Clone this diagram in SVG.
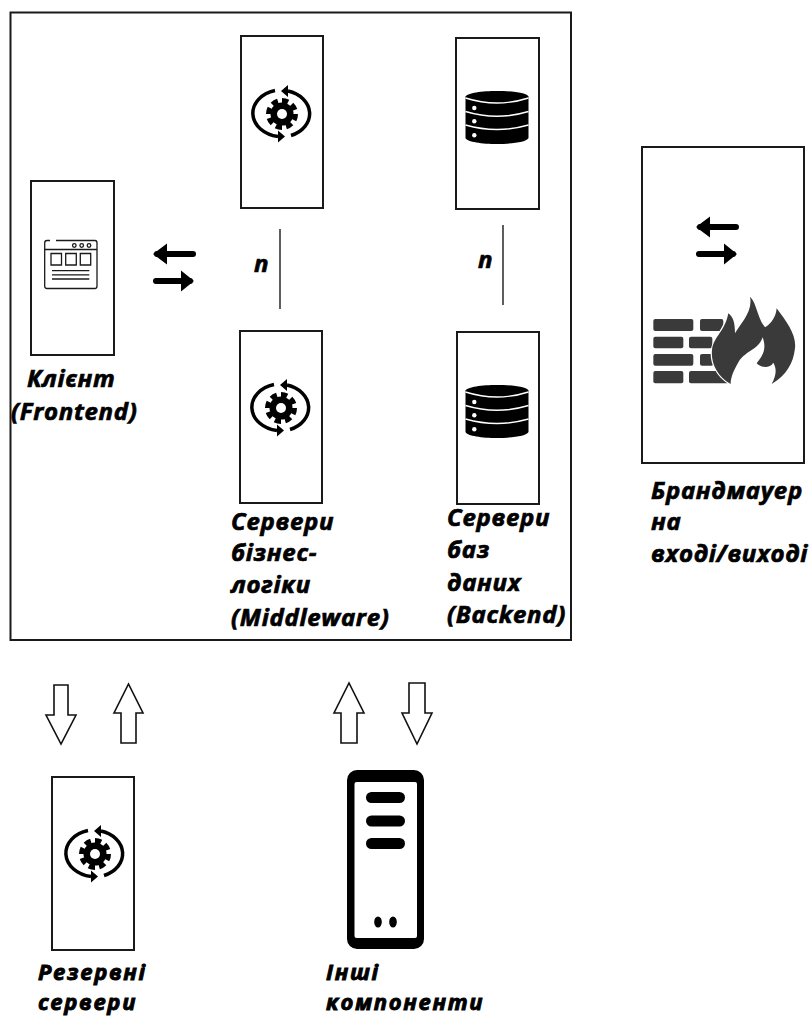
<svg xmlns="http://www.w3.org/2000/svg" width="811" height="1017" viewBox="0 0 811 1017">
<style>
.box{fill:#fff;stroke:#1a1a1a;stroke-width:2}
.lbl{font-family:"Open Sans","Noto Sans",sans-serif;font-weight:700;font-style:italic;font-size:24px;letter-spacing:.7px;fill:#000;stroke:#000;stroke-width:.7}
.low{font-size:22px;letter-spacing:1.700px;stroke-width:.9}
.link{stroke:#1a1a1a;stroke-width:1.4;fill:none}
.hollow{fill:#fff;stroke:#111;stroke-width:1.6}
.thin{fill:none;stroke:#1a1a1a;stroke-width:1.3}
</style>
<defs>
<symbol id="gear" overflow="visible">
<path d="M-7 -23.500A29.500 23.500 0 0 0 -4 22.500M9 21.500A29.500 23.500 0 0 0 6 -23" fill="none" stroke="#000" stroke-width="3.500"/>
<path d="M3 22.500L-4 16.500V28.500ZM-1 -23L6 -29V-17Z" fill="#000"/>
<circle r="11.500" fill="#000"/>
<circle r="13.500" fill="none" stroke="#000" stroke-width="5" pathLength="80" stroke-dasharray="6 4"/>
<circle r="5" fill="#fff"/>
</symbol>
<symbol id="db" overflow="visible">
<path d="M-31.500 -20.500C-28 -28 28 -28 31.500 -20.500V21C28 29 -28 29 -31.500 21Z" fill="#000"/>
<path d="M-31.500 -19Q0 -9 31.500 -19M-31.500 -5.500Q0 4 31.500 -5.500M-31.500 8Q0 17 31.500 8" fill="none" stroke="#fff" stroke-width="1.400"/>
<circle cx="-22.700" cy="-9" r="2.200" fill="#fff"/>
<circle cx="-22.700" cy="4.300" r="2.200" fill="#fff"/>
<circle cx="-22.700" cy="18.300" r="2.200" fill="#fff"/>
</symbol>
<symbol id="swap" overflow="visible">
<path d="M5 -13.500H41M4 13.500H38" stroke="#000" stroke-width="6" stroke-linecap="round" fill="none"/>
<path d="M1 -13.500L15 -24V-3ZM42 13.500L29 3V24Z" fill="#000"/>
</symbol>
</defs>
<rect width="811" height="1017" fill="#fff"/>
<rect id="container" x="10.500" y="12.500" width="560.500" height="627.500" fill="none" stroke="#1a1a1a" stroke-width="2"/>
<g id="connectors">
<path class="link" d="M280 229V309M503 225V305"/>
<use href="#swap" x="152" y="267.500"/>
<path class="hollow" d="M54 685H68V715H76L61 744L46 715H54Z"/>
<path class="hollow" d="M121 743H136V713H143L128.500 684L114 713H121Z"/>
<path class="hollow" d="M341 743H357V713H364L349 683L334 713H341Z"/>
<path class="hollow" d="M409 683H425V713H432L417 744L402 713H409Z"/>
</g>
<g id="client">
<rect class="box" x="31" y="181" width="83" height="174"/>
<path class="thin" d="M50 240.500H47Q44.700 240.500 44.700 243V286Q44.700 288.500 47 288.500H95Q97 288.500 97 286V243Q97 240.500 95 240.500H56M44.700 249.500H97"/>
<circle class="thin" cx="74.300" cy="245.500" r="1.800"/>
<circle class="thin" cx="81.700" cy="245.500" r="1.800"/>
<circle class="thin" cx="89" cy="245.500" r="1.800"/>
<path class="thin" d="M51 253.500H61.500V265H51ZM65.700 253.500H76.300V265H65.700ZM80.300 253.500H90.700V265H80.300ZM52 270.700H89.300M52 274.800H89.300M52 279H89.300"/>
<text class="lbl" x="27" y="387">Клієнт</text>
<text class="lbl" x="11" y="420">(Frontend)</text>
</g>
<g id="middleware-top">
<rect class="box" x="241" y="36" width="82" height="172"/>
<use href="#gear" x="282" y="114"/>
</g>
<g id="middleware-bottom">
<rect class="box" x="240" y="331" width="82" height="172"/>
<use href="#gear" x="281" y="408"/>
<text class="lbl" x="231" y="530">Сервери</text>
<text class="lbl" x="231" y="561">бізнес-</text>
<text class="lbl" x="231" y="593">логіки</text>
<text class="lbl" x="231" y="626">(Middleware)</text>
</g>
<text class="lbl" x="254" y="272">n</text>
<g id="db-top">
<rect class="box" x="456" y="38" width="83" height="171"/>
<use href="#db" x="497" y="117"/>
</g>
<g id="db-bottom">
<rect class="box" x="457" y="332" width="82" height="172"/>
<use href="#db" x="497" y="411"/>
<text class="lbl" x="447" y="526">Сервери</text>
<text class="lbl" x="447" y="558">баз</text>
<text class="lbl" x="447" y="591">даних</text>
<text class="lbl" x="447" y="623">(Backend)</text>
</g>
<text class="lbl" x="478" y="268">n</text>
<g id="firewall">
<rect class="box" x="642" y="147" width="162" height="316"/>
<use href="#swap" x="695" y="240.500"/>
<g transform="translate(640 200) scale(.3333)">
<g fill="#3a3a3a">
<rect x="40" y="357" width="120" height="36" rx="6"/>
<rect x="180" y="357" width="70" height="36" rx="6"/>
<rect x="40" y="410" width="90" height="35" rx="6"/>
<rect x="147" y="410" width="70" height="35" rx="6"/>
<rect x="40" y="462" width="120" height="35" rx="6"/>
<rect x="180" y="462" width="40" height="35" rx="6"/>
<rect x="40" y="513" width="90" height="37" rx="6"/>
<rect x="147" y="513" width="120" height="37" rx="6"/>
</g>
<path d="M272 552C232 530 212 490 216 450C220 410 255 395 265 340C280 352 285 368 285 400C300 372 340 335 330 290C352 312 350 350 375 382C395 370 408 350 410 325C440 365 470 405 465 445C460 490 440 525 395 552C410 525 410 505 400 488C390 505 365 505 350 490C365 470 382 450 368 412C355 450 320 450 296 485C282 510 272 530 272 552Z" fill="#3a3a3a" stroke="#fff" stroke-width="7" stroke-linejoin="round" paint-order="stroke"/>
</g>
<text class="lbl" x="651" y="499">Брандмауер</text>
<text class="lbl" x="651" y="530">на</text>
<text class="lbl" x="651" y="562">входi/виходi</text>
</g>
<g id="reserve">
<rect class="box" x="52" y="777" width="82" height="173"/>
<use href="#gear" x="95" y="854"/>
<text class="lbl low" x="38" y="980">Резервні</text>
<text class="lbl low" x="38" y="1010">сервери</text>
</g>
<g id="other">
<rect x="347" y="770" width="77" height="179" rx="10" fill="#000"/>
<rect x="354.500" y="782" width="62.500" height="156" rx="2" fill="#fff"/>
<rect x="366" y="792" width="39" height="11" rx="5.500" fill="#000"/>
<rect x="366" y="815.500" width="39" height="11" rx="5.500" fill="#000"/>
<rect x="366" y="838" width="39" height="11" rx="5.500" fill="#000"/>
<ellipse cx="378" cy="922" rx="3.800" ry="5.500" fill="#000"/>
<ellipse cx="393" cy="922" rx="3.800" ry="5.500" fill="#000"/>
<text class="lbl low" x="326" y="980">Інші</text>
<text class="lbl low" x="326" y="1010">компоненти</text>
</g>
</svg>
